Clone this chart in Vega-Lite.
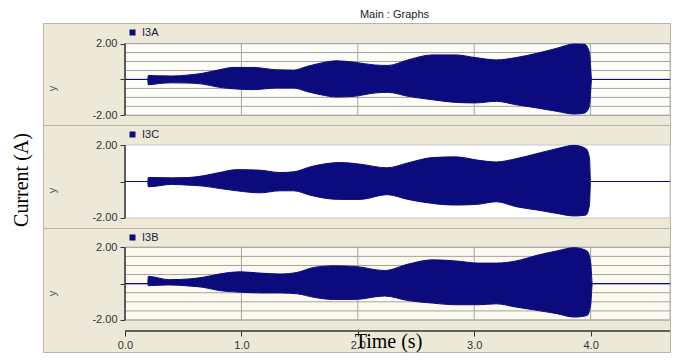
{
  "$schema": "https://vega.github.io/schema/vega-lite/v6.json",
  "background": "white",
  "padding": {"left": 0, "top": 6, "right": 0, "bottom": 0},
  "bounds": "flush",
  "spacing": 0,
  "config": {
    "view": {"fill": "#ECE9D8", "stroke": "#b9b5a3", "strokeWidth": 1},
    "font": "Liberation Sans",
    "axis": {"labelFont": "Liberation Sans", "labelFontSize": 11, "labelColor": "#333333", "tickColor": "#333333", "grid": false},
    "legend": {"orient": "none", "legendX": 84, "legendY": 4, "symbolType": "square", "symbolSize": 36, "symbolStrokeWidth": 0, "labelFont": "Liberation Sans", "labelFontSize": 11, "labelColor": "#1a1a40", "labelOffset": 4, "title": null, "padding": 0}
  },
  "datasets": {
    "hgrid": [{"v": -2}, {"v": -1.5}, {"v": -1}, {"v": -0.5}, {"v": 0}, {"v": 0.5}, {"v": 1}, {"v": 1.5}, {"v": 2}],
    "vgrid": [{"v": 1}, {"v": 2}, {"v": 3}, {"v": 4}],
    "I3A": [
      {"t": 0, "hi": 0, "lo": 0}, {"t": 0.195, "hi": 0, "lo": 0},
      {"t": 0.2, "hi": 0.22, "lo": -0.3}, {"t": 0.3, "hi": 0.2, "lo": -0.22}, {"t": 0.4, "hi": 0.19, "lo": -0.19},
      {"t": 0.55, "hi": 0.25, "lo": -0.2}, {"t": 0.67, "hi": 0.35, "lo": -0.26}, {"t": 0.81, "hi": 0.54, "lo": -0.44},
      {"t": 0.93, "hi": 0.67, "lo": -0.52}, {"t": 1.1, "hi": 0.67, "lo": -0.57}, {"t": 1.3, "hi": 0.54, "lo": -0.48},
      {"t": 1.45, "hi": 0.52, "lo": -0.48}, {"t": 1.56, "hi": 0.72, "lo": -0.67}, {"t": 1.68, "hi": 0.91, "lo": -0.85},
      {"t": 1.82, "hi": 1.04, "lo": -0.98}, {"t": 1.97, "hi": 0.96, "lo": -0.94}, {"t": 2.14, "hi": 0.81, "lo": -0.76},
      {"t": 2.26, "hi": 0.78, "lo": -0.72}, {"t": 2.43, "hi": 1.09, "lo": -0.94}, {"t": 2.64, "hi": 1.37, "lo": -1.13},
      {"t": 2.84, "hi": 1.37, "lo": -1.28}, {"t": 3.01, "hi": 1.22, "lo": -1.31}, {"t": 3.19, "hi": 1.09, "lo": -1.22},
      {"t": 3.36, "hi": 1.22, "lo": -1.41}, {"t": 3.54, "hi": 1.46, "lo": -1.59}, {"t": 3.71, "hi": 1.74, "lo": -1.78},
      {"t": 3.86, "hi": 1.98, "lo": -1.93}, {"t": 3.95, "hi": 1.96, "lo": -1.87}, {"t": 3.99, "hi": 1.5, "lo": -1.5},
      {"t": 4.01, "hi": 0, "lo": 0}, {"t": 4.682, "hi": 0, "lo": 0}
    ],
    "I3C": [
      {"t": 0, "hi": 0, "lo": 0}, {"t": 0.195, "hi": 0, "lo": 0},
      {"t": 0.2, "hi": 0.22, "lo": -0.29}, {"t": 0.4, "hi": 0.2, "lo": -0.16}, {"t": 0.55, "hi": 0.22, "lo": -0.2},
      {"t": 0.67, "hi": 0.31, "lo": -0.25}, {"t": 0.81, "hi": 0.49, "lo": -0.38}, {"t": 0.96, "hi": 0.65, "lo": -0.51},
      {"t": 1.16, "hi": 0.62, "lo": -0.62}, {"t": 1.33, "hi": 0.49, "lo": -0.51}, {"t": 1.45, "hi": 0.53, "lo": -0.51},
      {"t": 1.59, "hi": 0.8, "lo": -0.75}, {"t": 1.73, "hi": 0.98, "lo": -0.93}, {"t": 1.85, "hi": 1.04, "lo": -0.98},
      {"t": 2.02, "hi": 0.95, "lo": -0.98}, {"t": 2.25, "hi": 0.75, "lo": -0.72}, {"t": 2.43, "hi": 1.02, "lo": -0.98},
      {"t": 2.64, "hi": 1.31, "lo": -1.2}, {"t": 2.84, "hi": 1.35, "lo": -1.29}, {"t": 3.04, "hi": 1.16, "lo": -1.24},
      {"t": 3.19, "hi": 1.07, "lo": -1.11}, {"t": 3.36, "hi": 1.25, "lo": -1.38}, {"t": 3.54, "hi": 1.53, "lo": -1.56},
      {"t": 3.71, "hi": 1.8, "lo": -1.75}, {"t": 3.86, "hi": 1.98, "lo": -1.89}, {"t": 3.96, "hi": 1.8, "lo": -1.84},
      {"t": 3.99, "hi": 1.3, "lo": -1.3}, {"t": 4.0, "hi": 0, "lo": 0}, {"t": 4.682, "hi": 0, "lo": 0}
    ],
    "I3B": [
      {"t": 0, "hi": 0, "lo": 0}, {"t": 0.195, "hi": 0, "lo": 0},
      {"t": 0.2, "hi": 0.4, "lo": -0.11}, {"t": 0.38, "hi": 0.22, "lo": -0.07}, {"t": 0.55, "hi": 0.26, "lo": -0.13},
      {"t": 0.67, "hi": 0.35, "lo": -0.2}, {"t": 0.81, "hi": 0.53, "lo": -0.38}, {"t": 0.99, "hi": 0.65, "lo": -0.47},
      {"t": 1.16, "hi": 0.58, "lo": -0.51}, {"t": 1.33, "hi": 0.53, "lo": -0.51}, {"t": 1.48, "hi": 0.62, "lo": -0.56},
      {"t": 1.62, "hi": 0.89, "lo": -0.75}, {"t": 1.79, "hi": 0.98, "lo": -0.87}, {"t": 1.97, "hi": 0.95, "lo": -0.87},
      {"t": 2.23, "hi": 0.72, "lo": -0.68}, {"t": 2.43, "hi": 1.07, "lo": -0.93}, {"t": 2.64, "hi": 1.31, "lo": -1.07},
      {"t": 2.84, "hi": 1.25, "lo": -1.16}, {"t": 3.04, "hi": 1.13, "lo": -1.16}, {"t": 3.19, "hi": 1.13, "lo": -1.11},
      {"t": 3.36, "hi": 1.25, "lo": -1.29}, {"t": 3.54, "hi": 1.56, "lo": -1.47}, {"t": 3.71, "hi": 1.8, "lo": -1.65},
      {"t": 3.86, "hi": 1.98, "lo": -1.84}, {"t": 3.97, "hi": 1.8, "lo": -1.75}, {"t": 4.0, "hi": 1.2, "lo": -1.2},
      {"t": 4.015, "hi": 0, "lo": 0}, {"t": 4.682, "hi": 0, "lo": 0}
    ]
  },
  "hconcat": [
    {
      "width": 43, "height": 348,
      "view": {"fill": "white", "stroke": null},
      "data": {"values": [{"label": "Current (A)"}]},
      "mark": {"type": "text", "angle": 270, "font": "Liberation Serif", "fontSize": 20, "color": "black", "align": "center", "baseline": "middle"},
      "encoding": {"text": {"field": "label"}}
    },
    {
      "spacing": 0,
      "bounds": "flush",
      "resolve": {"scale": {"y": "independent", "color": "independent", "x": "shared"}},
      "vconcat": [
        {
          "width": 627, "height": 17,
          "data": {"values": [{"label": "Main : Graphs"}]},
          "mark": {"type": "text", "dx": 38, "fontSize": 11, "color": "#222222", "align": "center", "baseline": "middle"},
          "encoding": {"text": {"field": "label"}}
        },
        {
          "width": 627, "height": 102,
          "layer": [
            {
              "data": {"values": [{}]},
              "mark": {"type": "rect", "fill": "#fdfdf8", "stroke": "#b8b8b8", "strokeWidth": 1},
              "encoding": {
                "x": {"datum": 0, "type": "quantitative", "scale": {"domain": [-0.7045, 4.682], "nice": false, "zero": false}, "axis": null},
                "x2": {"datum": 4.682},
                "y": {"datum": -2, "type": "quantitative", "scale": {"domain": [-2.541, 3.149], "nice": false, "zero": false}},
                "y2": {"datum": 2}
              }
            },
            {
              "data": {"name": "hgrid"},
              "mark": {"type": "rule", "color": "#a3a3a3", "strokeWidth": 1},
              "encoding": {
                "y": {"field": "v", "type": "quantitative", "scale": {"domain": [-2.541, 3.149], "nice": false, "zero": false}},
                "x": {"datum": 0, "type": "quantitative", "scale": {"domain": [-0.7045, 4.682], "nice": false, "zero": false}, "axis": null},
                "x2": {"datum": 4.682}
              }
            },
            {
              "data": {"name": "vgrid"},
              "mark": {"type": "rule", "color": "#a3a3a3", "strokeWidth": 1},
              "encoding": {
                "x": {"field": "v", "type": "quantitative", "scale": {"domain": [-0.7045, 4.682], "nice": false, "zero": false}, "axis": null},
                "y": {"datum": -2, "type": "quantitative", "scale": {"domain": [-2.541, 3.149], "nice": false, "zero": false}},
                "y2": {"datum": 2}
              }
            },
            {
              "data": {"name": "I3A"},
              "mark": {"type": "area", "interpolate": "monotone", "stroke": "#0b0b7d", "strokeWidth": 1, "opacity": 1},
              "encoding": {
                "x": {"field": "t", "type": "quantitative", "scale": {"domain": [-0.7045, 4.682], "nice": false, "zero": false}, "axis": null},
                "y": {"field": "hi", "type": "quantitative", "scale": {"domain": [-2.541, 3.149], "nice": false, "zero": false},
                  "axis": {"offset": -82, "values": [-2, -1.5, -1, -0.5, 0, 0.5, 1, 1.5, 2], "labelExpr": "datum.value == 2 ? '2.00' : datum.value == -2 ? '-2.00' : ''", "labelOverlap": false, "labelBound": false, "domain": false, "tickSize": 5, "labelPadding": 3, "title": "y", "titleFont": "Liberation Sans", "titleFontSize": 11, "titleFontWeight": "normal", "titleColor": "#555555", "titleX": -68, "titleY": 65, "titleAlign": "center"}},
                "y2": {"field": "lo"},
                "color": {"datum": "I3A", "type": "nominal", "scale": {"range": ["#0b0b7d"]}}
              }
            },
            {
              "data": {"values": [{}]},
              "mark": {"type": "rule", "color": "#333333", "strokeWidth": 1.5},
              "encoding": {
                "x": {"datum": 0, "type": "quantitative", "scale": {"domain": [-0.7045, 4.682], "nice": false, "zero": false}, "axis": null},
                "y": {"datum": -2, "type": "quantitative", "scale": {"domain": [-2.541, 3.149], "nice": false, "zero": false}},
                "y2": {"datum": 2}
              }
            }
          ]
        },
        {
          "width": 627, "height": 103,
          "layer": [
            {
              "data": {"values": [{}]},
              "mark": {"type": "rect", "fill": "#ffffff", "stroke": "#c8c8c8", "strokeWidth": 1},
              "encoding": {
                "x": {"datum": 0, "type": "quantitative", "scale": {"domain": [-0.7045, 4.682], "nice": false, "zero": false}, "axis": null},
                "x2": {"datum": 4.682},
                "y": {"datum": -2, "type": "quantitative", "scale": {"domain": [-2.548, 3.096], "nice": false, "zero": false}},
                "y2": {"datum": 2}
              }
            },
            {
              "data": {"name": "I3C"},
              "mark": {"type": "area", "interpolate": "monotone", "stroke": "#0b0b7d", "strokeWidth": 1, "opacity": 1},
              "encoding": {
                "x": {"field": "t", "type": "quantitative", "scale": {"domain": [-0.7045, 4.682], "nice": false, "zero": false}, "axis": null},
                "y": {"field": "hi", "type": "quantitative", "scale": {"domain": [-2.548, 3.096], "nice": false, "zero": false},
                  "axis": {"offset": -82, "values": [-2, -1.5, -1, -0.5, 0, 0.5, 1, 1.5, 2], "labelExpr": "datum.value == 2 ? '2.00' : datum.value == -2 ? '-2.00' : ''", "labelOverlap": false, "labelBound": false, "domain": false, "tickSize": 5, "labelPadding": 3, "title": "y", "titleFont": "Liberation Sans", "titleFontSize": 11, "titleFontWeight": "normal", "titleColor": "#555555", "titleX": -68, "titleY": 65, "titleAlign": "center"}},
                "y2": {"field": "lo"},
                "color": {"datum": "I3C", "type": "nominal", "scale": {"range": ["#0b0b7d"]}}
              }
            },
            {
              "data": {"values": [{}]},
              "mark": {"type": "rule", "color": "#333333", "strokeWidth": 1.5},
              "encoding": {
                "x": {"datum": 0, "type": "quantitative", "scale": {"domain": [-0.7045, 4.682], "nice": false, "zero": false}, "axis": null},
                "y": {"datum": -2, "type": "quantitative", "scale": {"domain": [-2.548, 3.096], "nice": false, "zero": false}},
                "y2": {"datum": 2}
              }
            }
          ]
        },
        {
          "width": 627, "height": 124,
          "layer": [
            {
              "data": {"values": [{}]},
              "mark": {"type": "rect", "fill": "#fcfaee", "stroke": "#b8b8b8", "strokeWidth": 1},
              "encoding": {
                "x": {"datum": 0, "type": "quantitative", "scale": {"domain": [-0.7045, 4.682], "nice": false, "zero": false}},
                "x2": {"datum": 4.682},
                "y": {"datum": -2, "type": "quantitative", "scale": {"domain": [-3.761, 3.062], "nice": false, "zero": false}},
                "y2": {"datum": 2}
              }
            },
            {
              "data": {"name": "hgrid"},
              "mark": {"type": "rule", "color": "#a3a3a3", "strokeWidth": 1},
              "encoding": {
                "y": {"field": "v", "type": "quantitative", "scale": {"domain": [-3.761, 3.062], "nice": false, "zero": false}},
                "x": {"datum": 0, "type": "quantitative", "scale": {"domain": [-0.7045, 4.682], "nice": false, "zero": false}},
                "x2": {"datum": 4.682}
              }
            },
            {
              "data": {"name": "vgrid"},
              "mark": {"type": "rule", "color": "#a3a3a3", "strokeWidth": 1},
              "encoding": {
                "x": {"field": "v", "type": "quantitative", "scale": {"domain": [-0.7045, 4.682], "nice": false, "zero": false}},
                "y": {"datum": -2, "type": "quantitative", "scale": {"domain": [-3.761, 3.062], "nice": false, "zero": false}},
                "y2": {"datum": 2}
              }
            },
            {
              "data": {"name": "I3B"},
              "mark": {"type": "area", "interpolate": "monotone", "stroke": "#0b0b7d", "strokeWidth": 1, "opacity": 1},
              "encoding": {
                "x": {"field": "t", "type": "quantitative", "scale": {"domain": [-0.7045, 4.682], "nice": false, "zero": false},
                  "axis": {"offset": -21, "values": [0, 1, 2, 3, 4], "format": ".1f", "domain": false, "tickSize": 5, "labelPadding": 3, "labelFlush": false, "title": "Time (s)", "titleFont": "Liberation Serif", "titleFontSize": 20, "titleFontWeight": "normal", "titleColor": "black", "titleX": 345, "titleY": 16, "titleBaseline": "alphabetic", "titleAlign": "center"}},
                "y": {"field": "hi", "type": "quantitative", "scale": {"domain": [-3.761, 3.062], "nice": false, "zero": false},
                  "axis": {"offset": -82, "values": [-2, -1.5, -1, -0.5, 0, 0.5, 1, 1.5, 2], "labelExpr": "datum.value == 2 ? '2.00' : datum.value == -2 ? '-2.00' : ''", "labelOverlap": false, "labelBound": false, "domain": false, "tickSize": 5, "labelPadding": 3, "title": "y", "titleFont": "Liberation Sans", "titleFontSize": 11, "titleFontWeight": "normal", "titleColor": "#555555", "titleX": -68, "titleY": 65, "titleAlign": "center"}},
                "y2": {"field": "lo"},
                "color": {"datum": "I3B", "type": "nominal", "scale": {"range": ["#0b0b7d"]}}
              }
            },
            {
              "data": {"values": [{}]},
              "mark": {"type": "rule", "color": "#333333", "strokeWidth": 1.5},
              "encoding": {
                "x": {"datum": 0, "type": "quantitative", "scale": {"domain": [-0.7045, 4.682], "nice": false, "zero": false}},
                "y": {"datum": -2, "type": "quantitative", "scale": {"domain": [-3.761, 3.062], "nice": false, "zero": false}},
                "y2": {"datum": 2}
              }
            },
            {
              "data": {"values": [{}]},
              "mark": {"type": "rule", "color": "#333333", "strokeWidth": 1.5},
              "encoding": {
                "y": {"datum": -2.605, "type": "quantitative", "scale": {"domain": [-3.761, 3.062], "nice": false, "zero": false}},
                "x": {"datum": 0, "type": "quantitative", "scale": {"domain": [-0.7045, 4.682], "nice": false, "zero": false}},
                "x2": {"datum": 4.682}
              }
            }
          ]
        }
      ]
    }
  ]
}
